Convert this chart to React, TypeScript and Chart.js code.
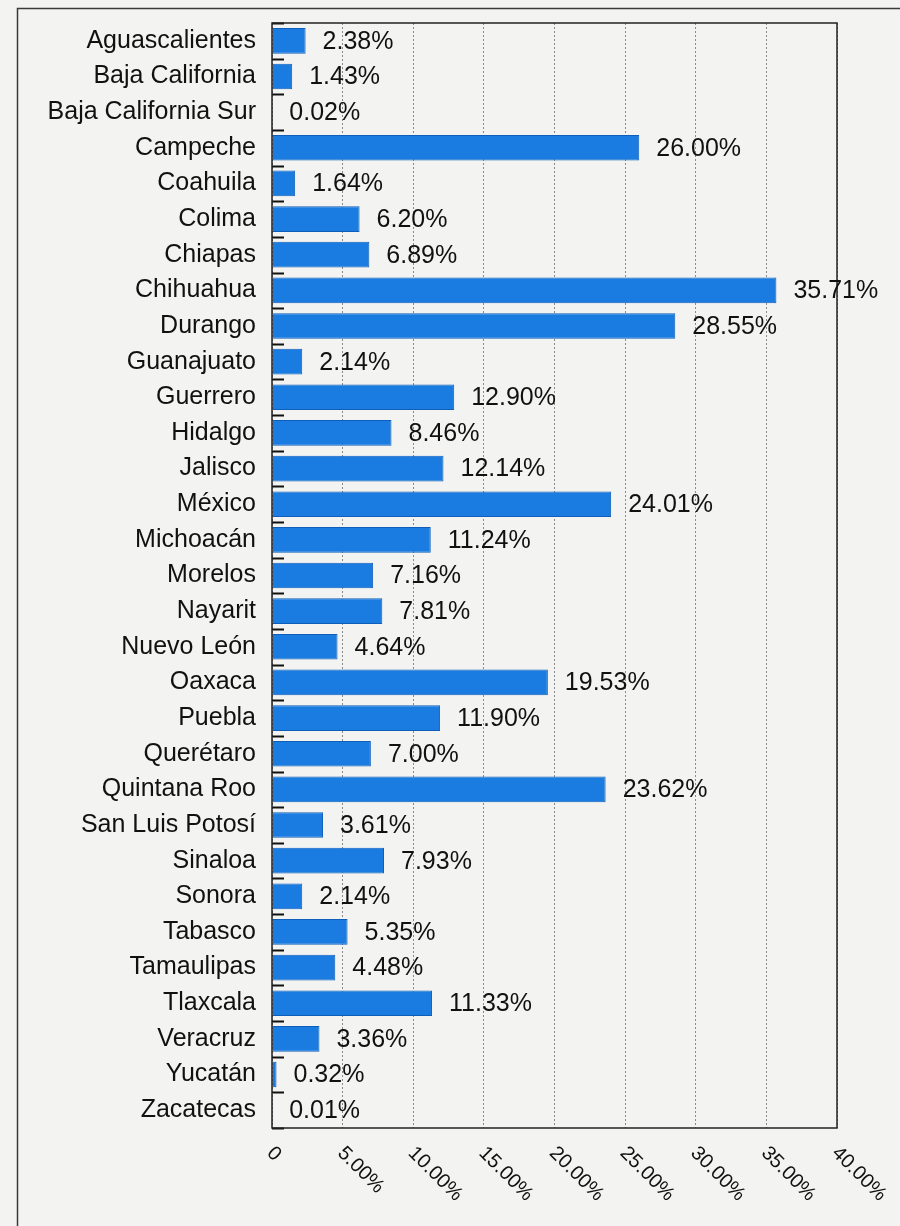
import React, { useEffect, useRef } from "react";
import { Chart, registerables } from "chart.js";

Chart.register(...registerables);

const states: string[] = [
  "Aguascalientes", "Baja California", "Baja California Sur", "Campeche", "Coahuila",
  "Colima", "Chiapas", "Chihuahua", "Durango", "Guanajuato", "Guerrero", "Hidalgo",
  "Jalisco", "México", "Michoacán", "Morelos", "Nayarit", "Nuevo León", "Oaxaca",
  "Puebla", "Querétaro", "Quintana Roo", "San Luis Potosí", "Sinaloa", "Sonora",
  "Tabasco", "Tamaulipas", "Tlaxcala", "Veracruz", "Yucatán", "Zacatecas",
];

const percentages: number[] = [
  2.38, 1.43, 0.02, 26.0, 1.64, 6.2, 6.89, 35.71, 28.55, 2.14, 12.9, 8.46,
  12.14, 24.01, 11.24, 7.16, 7.81, 4.64, 19.53, 11.9, 7.0, 23.62, 3.61,
  7.93, 2.14, 5.35, 4.48, 11.33, 3.36, 0.32, 0.01,
];

const xTickLabels: string[] = [
  "0", "5.00%", "10.00%", "15.00%", "20.00%", "25.00%", "30.00%", "35.00%", "40.00%",
];

const FONT = "Arial, 'Liberation Sans', Helvetica, sans-serif";

export default function App() {
  const ref = useRef<HTMLCanvasElement | null>(null);

  useEffect(() => {
    document.body.style.margin = "0";
    const canvas = ref.current;
    if (!canvas) return;

    const decor = {
      id: "decor",
      beforeDraw(chart: any) {
        const ctx = chart.ctx;
        ctx.save();
        ctx.fillStyle = "#f3f3f1";
        ctx.fillRect(0, 0, chart.width, chart.height);
        // outer frame (partially cropped)
        ctx.strokeStyle = "#3a3a3a";
        ctx.lineWidth = 1.5;
        ctx.beginPath();
        ctx.moveTo(17.5, chart.height);
        ctx.lineTo(17.5, 8.5);
        ctx.lineTo(chart.width, 8.5);
        ctx.stroke();
        ctx.restore();
      },
      afterDatasetsDraw(chart: any) {
        const ctx = chart.ctx;
        const area = chart.chartArea;
        const y = chart.scales.y;
        const x = chart.scales.x;
        ctx.save();
        // inward tick marks at category boundaries
        ctx.strokeStyle = "#111";
        ctx.lineWidth = 2;
        const n = states.length;
        const step = y.getPixelForValue(1) - y.getPixelForValue(0);
        for (let i = 0; i <= n; i++) {
          const py = i < n ? y.getPixelForValue(i) - step / 2 : y.getPixelForValue(n - 1) + step / 2;
          ctx.beginPath();
          ctx.moveTo(area.left, Math.round(py) + 0.5);
          ctx.lineTo(area.left + 12, Math.round(py) + 0.5);
          ctx.stroke();
        }
        // plot border
        ctx.strokeStyle = "#222";
        ctx.lineWidth = 1.5;
        ctx.strokeRect(area.left, area.top, area.right - area.left, area.bottom - area.top);

        // value labels
        ctx.fillStyle = "#111";
        ctx.font = `25px ${FONT}`;
        ctx.textAlign = "left";
        ctx.textBaseline = "middle";
        const meta = chart.getDatasetMeta(0);
        meta.data.forEach((bar: any, i: number) => {
          ctx.fillText(percentages[i].toFixed(2) + "%", bar.x + 17, bar.y + 1);
        });

        // rotated x tick labels (clockwise)
        ctx.font = `20px ${FONT}`;
        ctx.textBaseline = "middle";
        x.ticks.forEach((t: any, i: number) => {
          const px = x.getPixelForValue(t.value);
          ctx.save();
          ctx.translate(px - 2, area.bottom + 22);
          ctx.rotate(Math.PI / 4);
          ctx.fillText(xTickLabels[i] ?? String(t.value), 0, 0);
          ctx.restore();
        });
        ctx.restore();
      },
    };

    const chart = new Chart(canvas, {
      type: "bar",
      data: {
        labels: states,
        datasets: [
          {
            data: percentages,
            backgroundColor: "#1a7be0",
            borderColor: "#0f5fba",
            borderWidth: 1,
            barPercentage: 0.72,
            categoryPercentage: 1,
          },
        ],
      },
      options: {
        indexAxis: "y",
        responsive: false,
        animation: false,
        layout: { padding: { top: 23, right: 63, bottom: 0, left: 0 } },
        plugins: { legend: { display: false }, tooltip: { enabled: false } },
        scales: {
          x: {
            min: 0,
            max: 40,
            ticks: { display: false, stepSize: 5 },
            grid: { color: "#8a8a8a", lineWidth: 1, drawTicks: false },
            border: { display: false, dash: [2, 2] },
            afterFit: (s: any) => { s.height = 98; s.paddingLeft = 0; s.paddingRight = 0; },
          },
          y: {
            ticks: {
              color: "#111",
              font: { size: 25, family: FONT },
              padding: 16,
              autoSkip: false,
            },
            grid: { display: false, drawTicks: false },
            border: { display: false },
            afterFit: (s: any) => { s.width = 272; s.paddingTop = 0; s.paddingBottom = 0; },
          },
        },
      },
      plugins: [decor],
    });

    return () => chart.destroy();
  }, []);

  return (
    <div style={{ width: 900, height: 1226 }}>
      <canvas ref={ref} width={900} height={1226} style={{ display: "block" }} />
    </div>
  );
}
